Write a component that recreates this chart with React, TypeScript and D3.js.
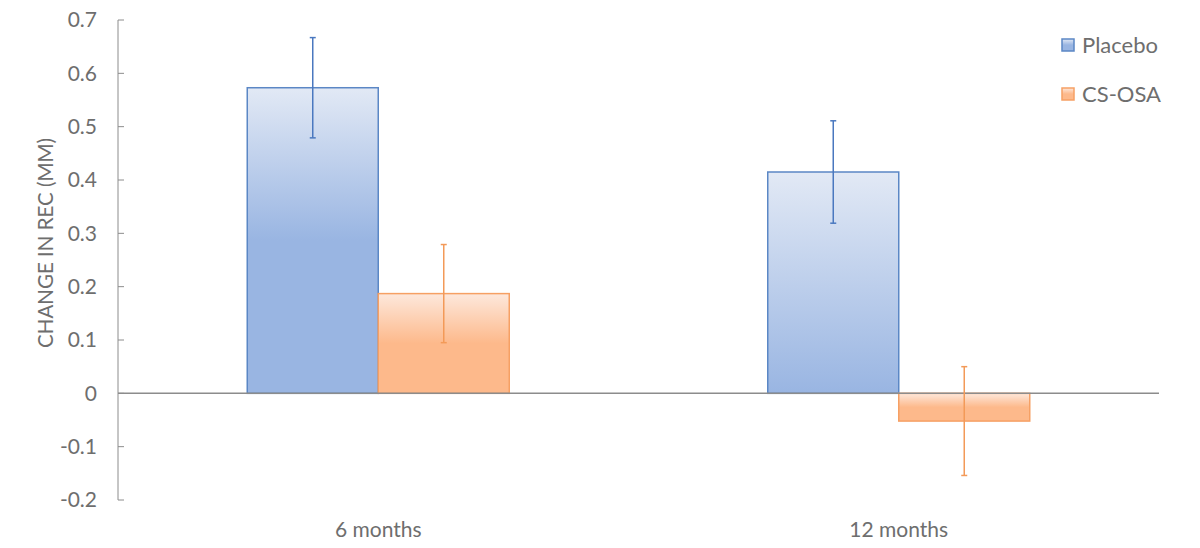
import { useEffect, useRef } from 'react';
import * as d3 from 'd3';

// data
const categories = ['6 months', '12 months'];
const seriesNames = ['Placebo', 'CS-OSA'];
const placeboMean = [0.573, 0.415];
const placeboErr = [0.094, 0.096];
const csosaMean = [0.187, -0.052];
const csosaErr = [0.092, 0.102];
const yTicks = [-0.2, -0.1, 0, 0.1, 0.2, 0.3, 0.4, 0.5, 0.6, 0.7];

const W = 1200;
const H = 548;
const FONT = 'Lato, "Open Sans", "Noto Sans", sans-serif';
const TEXT = '#6e6e6e';

export default function App() {
  const ref = useRef<SVGSVGElement>(null);

  useEffect(() => {
    if (!ref.current) return;
    const svg = d3.select(ref.current);
    svg.selectAll('*').remove();

    const margin = { top: 20, right: 41, bottom: 48, left: 118 };
    const plotW = W - margin.left - margin.right;

    const x = d3.scaleBand().domain(categories).range([margin.left, margin.left + plotW]).paddingInner(0).paddingOuter(0);
    const y = d3.scaleLinear().domain([-0.2, 0.7]).range([H - margin.bottom, margin.top]);

    const barW = 131;

    const series = [
      { name: seriesNames[0], mean: placeboMean, err: placeboErr, stroke: '#5b87c5', errColor: '#4a78bf', light: '#e2e9f5', dark: '#99b5e2' },
      { name: seriesNames[1], mean: csosaMean, err: csosaErr, stroke: '#f6a064', errColor: '#f39a58', light: '#fde8dc', dark: '#fdb98b' },
    ];

    // gradient reaches the solid colour at a different depth on each bar
    const gradEnd = [[0.5, 1], [0.5, 0.5]];

    const defs = svg.append('defs');
    series.forEach((s, si) => {
      categories.forEach((c, ci) => {
        const g = defs.append('linearGradient')
          .attr('id', `grad-${si}-${ci}`)
          .attr('x1', 0).attr('y1', 0).attr('x2', 0).attr('y2', 1);
        g.append('stop').attr('offset', 0).attr('stop-color', s.light);
        g.append('stop').attr('offset', gradEnd[si][ci]).attr('stop-color', s.dark);
        g.append('stop').attr('offset', 1).attr('stop-color', s.dark);
      });
    });

    // y axis
    const axisColor = '#8c8c8c';
    svg.append('line')
      .attr('x1', margin.left).attr('x2', margin.left)
      .attr('y1', y(0.7)).attr('y2', y(-0.2))
      .attr('stroke', axisColor).attr('stroke-width', 1);

    yTicks.forEach(t => {
      svg.append('line')
        .attr('x1', margin.left).attr('x2', margin.left + 6)
        .attr('y1', y(t)).attr('y2', y(t))
        .attr('stroke', axisColor).attr('stroke-width', 1);
      svg.append('text')
        .attr('x', 97).attr('y', y(t))
        .attr('dy', '0.35em')
        .attr('text-anchor', 'end')
        .attr('font-family', FONT)
        .attr('font-size', 21)
        .attr('fill', TEXT)
        .text(t === 0 ? '0' : t.toFixed(1));
    });

    // axis title
    svg.append('text')
      .attr('transform', `translate(53,${243}) rotate(-90)`)
      .attr('text-anchor', 'middle')
      .attr('font-family', FONT)
      .attr('font-size', 20.5)
      .attr('fill', TEXT)
      .text('CHANGE IN REC (MM)');

    // bars
    series.forEach((s, si) => {
      categories.forEach((c, ci) => {
        const cx = (x(c) as number) + x.bandwidth() / 2;
        const x0 = si === 0 ? cx - barW : cx;
        const v = s.mean[ci];
        const top = y(Math.max(0, v));
        const bot = y(Math.min(0, v));
        svg.append('rect')
          .attr('x', x0).attr('y', top)
          .attr('width', barW).attr('height', bot - top)
          .attr('fill', `url(#grad-${si}-${ci})`)
          .attr('stroke', s.stroke)
          .attr('stroke-width', 1.5);
      });
    });

    // zero line
    svg.append('line')
      .attr('x1', margin.left).attr('x2', margin.left + plotW)
      .attr('y1', y(0)).attr('y2', y(0))
      .attr('stroke', axisColor).attr('stroke-width', 1.5);

    // error bars
    series.forEach((s, si) => {
      categories.forEach((c, ci) => {
        const cx = (x(c) as number) + x.bandwidth() / 2;
        const ex = si === 0 ? cx - barW / 2 : cx + barW / 2;
        const hi = y(s.mean[ci] + s.err[ci]);
        const lo = y(s.mean[ci] - s.err[ci]);
        const g = svg.append('g').attr('stroke', s.errColor).attr('stroke-width', 1.5);
        g.append('line').attr('x1', ex).attr('x2', ex).attr('y1', hi).attr('y2', lo);
        g.append('line').attr('x1', ex - 3).attr('x2', ex + 3).attr('y1', hi).attr('y2', hi);
        g.append('line').attr('x1', ex - 3).attr('x2', ex + 3).attr('y1', lo).attr('y2', lo);
      });
    });

    // category labels
    categories.forEach(c => {
      svg.append('text')
        .attr('x', (x(c) as number) + x.bandwidth() / 2)
        .attr('y', 537)
        .attr('text-anchor', 'middle')
        .attr('font-family', FONT)
        .attr('font-size', 21)
        .attr('fill', TEXT)
        .text(c);
    });

    // legend
    series.forEach((s, si) => {
      const ly = 39 + si * 49;
      svg.append('rect')
        .attr('x', 1062).attr('y', ly)
        .attr('width', 12).attr('height', 12)
        .attr('fill', `url(#grad-${si}-0)`)
        .attr('stroke', s.stroke).attr('stroke-width', 1.5);
      svg.append('text')
        .attr('x', 1082).attr('y', ly + 6)
        .attr('dy', '0.35em')
        .attr('font-family', FONT)
        .attr('font-size', 22)
        .attr('fill', TEXT)
        .text(s.name);
    });
  }, []);

  return (
    <svg
      ref={ref}
      width={W}
      height={H}
      style={{ position: 'absolute', left: 0, top: 0, background: '#fff' }}
    />
  );
}
